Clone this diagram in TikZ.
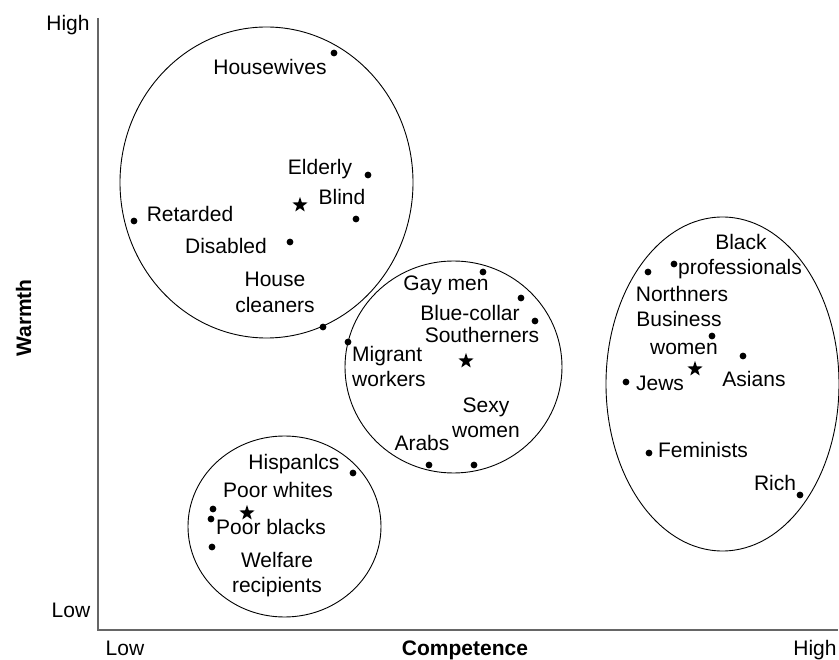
\documentclass[tikz,border=0pt]{standalone}
\usepackage{fontspec}
\setmainfont{Liberation Sans}
\usetikzlibrary{shapes.geometric}
\begin{document}
\begin{tikzpicture}[x=1pt,y=-1pt,
    gdot/.style={circle,fill=black,inner sep=0pt,minimum size=6.8pt},
    mean/.style={star,star points=5,star point ratio=2.5,fill=black,inner sep=0pt,minimum size=16pt},
    lbl/.style={inner sep=0pt,anchor=base,font=\fontsize{21}{25}\selectfont},
    grp/.style={line width=0.9pt},
    axis/.style={draw=black!60,line width=1.6pt}]
  \useasboundingbox (0,0) rectangle (839,660);
  % axes
  \coordinate (O) at (98,630);
  \coordinate (W) at (98,18);
  \coordinate (C) at (838,630);
  \draw[axis] (W) -- (O) -- (C);
  \node[lbl] (whigh) at (68,31) {High};
  \node[lbl] (wlow) at (71,617) {Low};
  \node[lbl] (clow) at (125,655) {Low};
  \node[lbl] (chigh) at (815,655) {High};
  \node[lbl,font=\fontsize{21}{25}\selectfont\bfseries] (comp) at (465,655) {Competence};
  \node[lbl,font=\fontsize{21}{25}\selectfont\bfseries,rotate=90] (warm) at (31,318) {Warmth};
  % groups
  \draw[grp] (266.5,182.5) ellipse [x radius=146.5pt, y radius=155.5pt];
  \draw[grp] (453.5,367) ellipse [x radius=108.5pt, y radius=106pt];
  \draw[grp] (284.5,526.5) ellipse [x radius=96.5pt, y radius=90.5pt];
  \draw[grp] (722.5,384) ellipse [x radius=116.5pt, y radius=167pt];
  % high warmth, low competence
  \node[gdot] (hw) at (334,53) {};
  \node[lbl] (hwl) at (270,75) {Housewives};
  \node[gdot] (eld) at (368,175) {};
  \node[lbl] (eldl) at (320,175) {Elderly};
  \node[gdot] (bli) at (356,219) {};
  \node[lbl] (blil) at (342,205) {Blind};
  \node[mean] (m1) at (300,205) {};
  \node[gdot] (ret) at (134,221) {};
  \node[lbl] (retl) at (190,222) {Retarded};
  \node[gdot] (dis) at (290,242) {};
  \node[lbl] (disl) at (226,254) {Disabled};
  \node[gdot] (hc) at (323,327) {};
  \node[lbl] (hcl1) at (275,287) {House};
  \node[lbl] (hcl2) at (275,313) {cleaners};
  % middle
  \node[gdot] (gay) at (483,272) {};
  \node[lbl] (gayl) at (446,291) {Gay men};
  \node[gdot] (blu) at (521,298) {};
  \node[lbl] (blul) at (470,321) {Blue-collar};
  \node[gdot] (sou) at (535,321) {};
  \node[lbl] (soul) at (482,343) {Southerners};
  \node[mean] (m2) at (466,361) {};
  \node[gdot] (mig) at (348,342) {};
  \node[lbl,anchor=base west] (migl1) at (352,362) {Migrant};
  \node[lbl,anchor=base west] (migl2) at (352,387) {workers};
  \node[lbl] (sexl1) at (486,413) {Sexy};
  \node[lbl] (sexl2) at (486,438) {women};
  \node[gdot] (sex) at (474,465) {};
  \node[lbl] (arbl) at (422,451) {Arabs};
  \node[gdot] (arb) at (429,465) {};
  % low warmth, low competence
  \node[gdot] (his) at (353,473) {};
  \node[lbl] (hisl) at (294,470) {Hispanlcs};
  \node[gdot] (pw) at (213,509) {};
  \node[lbl] (pwl) at (278,498) {Poor whites};
  \node[gdot] (pb) at (211,519) {};
  \node[lbl] (pbl) at (271,535) {Poor blacks};
  \node[mean] (m3) at (247,513) {};
  \node[gdot] (wel) at (212,547) {};
  \node[lbl] (well1) at (277,567) {Welfare};
  \node[lbl] (well2) at (277,592) {recipients};
  % high competence
  \node[gdot] (bp) at (674,264) {};
  \node[lbl] (bpl1) at (741,250) {Black};
  \node[lbl] (bpl2) at (740,275) {professionals};
  \node[gdot] (nor) at (648,272) {};
  \node[lbl] (norl) at (682,302) {Northners};
  \node[gdot] (bw) at (712,336) {};
  \node[lbl] (bwl1) at (679,327) {Business};
  \node[lbl] (bwl2) at (684,355) {women};
  \node[gdot] (asi) at (743,356) {};
  \node[lbl] (asil) at (754,387) {Asians};
  \node[mean] (m4) at (695,369) {};
  \node[gdot] (jew) at (626,382) {};
  \node[lbl] (jewl) at (660,391) {Jews};
  \node[gdot] (fem) at (649,453) {};
  \node[lbl] (feml) at (703,458) {Feminists};
  \node[gdot] (ric) at (800,495) {};
  \node[lbl] (ricl) at (775,490) {Rich};
\end{tikzpicture}
\end{document}
